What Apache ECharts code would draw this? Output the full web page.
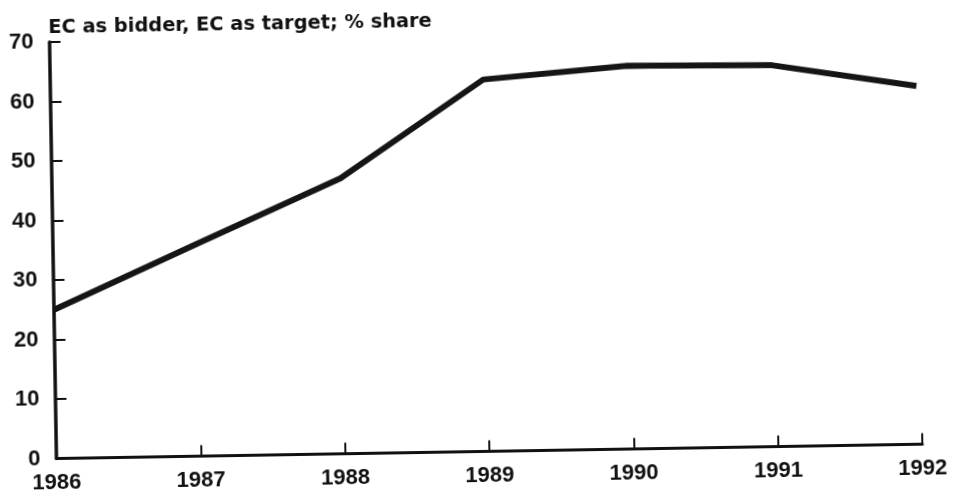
<!DOCTYPE html>
<html>
<head>
<meta charset="utf-8">
<script src="https://cdn.jsdelivr.net/npm/echarts@6/dist/echarts.min.js"></script>
<style>
  html, body { margin: 0; padding: 0; background: #ffffff; }
  #chart { width: 957px; height: 493px; transform: rotate(-0.95deg); transform-origin: 50% 50%; }
</style>
</head>
<body>
<div id="chart"></div>
<script>
const titleText = 'EC as bidder, EC as target; % share';
const years = ['1986', '1987', '1988', '1989', '1990', '1991', '1992'];
const shareValues = [25, 35.7, 46.3, 62.5, 64.4, 64.1, 60.2];
const yTicks = [0, 10, 20, 30, 40, 50, 60, 70];

const chart = echarts.init(document.getElementById('chart'), null, { renderer: 'canvas' });
chart.setOption({
  animation: false,
  backgroundColor: '#ffffff',
  title: {
    text: titleText,
    left: 47,
    top: 6,
    textStyle: { fontFamily: 'DejaVu Sans', fontWeight: 'bold', fontSize: 19.4, color: '#111' }
  },
  grid: { left: 53, right: 38, top: 35, bottom: 41.5, containLabel: false },
  xAxis: {
    type: 'category',
    data: years,
    boundaryGap: false,
    axisLine: { show: true, lineStyle: { color: '#111', width: 3 } },
    axisTick: { show: true, inside: true, length: 11, alignWithLabel: true, lineStyle: { color: '#111', width: 2 } },
    axisLabel: { margin: 13, fontFamily: 'Liberation Sans', fontWeight: 'bold', fontSize: 22, color: '#111' },
    splitLine: { show: false }
  },
  yAxis: {
    type: 'value',
    min: yTicks[0],
    max: yTicks[yTicks.length - 1],
    interval: 10,
    axisLine: { show: true, lineStyle: { color: '#111', width: 3.5 } },
    axisTick: { show: true, inside: true, length: 11, lineStyle: { color: '#111', width: 2 } },
    axisLabel: { margin: 16, fontFamily: 'Liberation Sans', fontWeight: 'bold', fontSize: 22, color: '#111' },
    splitLine: { show: false }
  },
  series: [{
    type: 'line',
    data: shareValues,
    symbol: 'none',
    lineStyle: { color: '#151515', width: 6, join: 'round' },
    z: 1
  }]
});
</script>
</body>
</html>
